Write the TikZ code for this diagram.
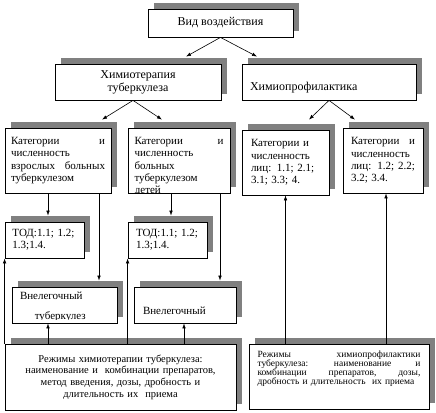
\documentclass[tikz,border=0pt]{standalone}
\usepackage{fontspec}
\setmainfont{Liberation Serif}
\usepackage{tikz}
\usetikzlibrary{arrows.meta,calc,shadows}
\setlength{\parindent}{0pt}
\definecolor{ink}{HTML}{000000}
\definecolor{shade}{HTML}{808080}
\newcommand{\tightfont}{\fontsize{9.5}{9}\selectfont\lineskiplimit=-10pt\relax}
\tikzset{
  box/.style={draw=ink,fill=white,line width=0.8pt,inner sep=2pt,align=left,
    font=\fontsize{11}{12.3}\selectfont,
    general shadow={fill=shade,shadow xshift=5.5pt,shadow yshift=6pt}},
  headbox/.style={box,font=\fontsize{12}{13}\selectfont},
  smallbox/.style={box,font=\tightfont},
  txt/.style={inner sep=0pt,font=\fontsize{11}{12.3}\selectfont},
  arr/.style={-{Latex[length=5pt,width=3.6pt]},draw=ink,line width=0.6pt},
}
\begin{document}
\begin{tikzpicture}[x=1pt,y=-1pt]
  \useasboundingbox (0,0) rectangle (436,412);
  \node[headbox,align=center,minimum width=145pt,minimum height=28pt] (vid) at (220.5,23) {Вид воздействия};
  \node[headbox,align=center,minimum width=166pt,minimum height=36pt] (himter) at (138,82) {Химиотерапия\\туберкулеза};
  \node[headbox,text width=158pt,text height=20pt,minimum width=174pt,minimum height=36pt] (himprof) at (329,82) {Химиопрофилактика};
  \node[box,text width=94pt,minimum width=106pt,minimum height=65pt] (kat1) at (58,160.5) {Категории \hfill и\\численность\\взрослых \hfill больных\\туберкулезом};
  \node[box,text width=89pt,minimum width=102pt,minimum height=65pt] (kat2) at (179,160.5) {Категории \hfill и\\численность\\больных\\туберкулезом};
  \node[box,text width=69pt,minimum width=87pt,minimum height=65pt] (kat3) at (285.5,162.5) {Категории и\\численность\\лиц: 1.1; 2.1;\\3.1; 3.3; 4.};
  \node[box,text width=64pt,minimum width=80pt,minimum height=65pt] (kat4) at (383,160.5) {Категории \hfill и\\численность\\лиц: \hfill 1.2; \hfill 2.2;\\3.2; 3.4.};
  \node[box,text width=64pt,minimum width=79pt,minimum height=36pt] (tod1) at (44.5,240) {ТОД:1.1; 1.2;\\1.3;1.4.};
  \node[box,text width=63pt,minimum width=79pt,minimum height=36pt] (tod2) at (167.5,240) {ТОД:1.1; 1.2;\\1.3;1.4.};
  \node[box,text width=89pt,text depth=18pt,minimum width=105pt,minimum height=36pt] (vnel1) at (64.5,305) {Внелегочный};
  \node[box,text width=84pt,text height=18.5pt,minimum width=102pt,minimum height=36pt] (vnel2) at (185,305) {Внелегочный};
  \node[box,align=center,text width=224pt,font=\fontsize{10.5}{11.7}\selectfont,minimum width=231pt,minimum height=66pt] (rezh1) at (120.5,377) {Режимы химиотерапии туберкулеза:\\наименование и\ \ комбинации препаратов,\\метод введения, дозы, дробность и\\длительность их\ \ приема};
  \node[smallbox,text width=163pt,text depth=44pt,minimum width=180pt,minimum height=65pt] (rezh2) at (339,376.5) {Режимы \hfill химиопрофилактики\\туберкулеза: \hfill наименование \hfill и\\комбинации \hfill препаратов, \hfill дозы,\\дробность и длительность\ \ их приема};
  \begin{scope}
    \clip (kat2.north west) rectangle (kat2.south east);
    \node[txt,anchor=base west] (kat2b) at ($(kat2.south west)+(7,0)$) {детей};
  \end{scope}
  \begin{scope}
    \clip (vnel1.north west) rectangle ($(vnel1.south east)+(0,-4)$);
    \node[txt,anchor=base west] (vnel1b) at ($(vnel1.south west)+(23,-4.3)$) {туберкулез};
  \end{scope}
  \draw[arr] (vid.south) -- ($(himter.north)+(48,-7)$);
  \draw[arr] (vid.south) -- ($(himprof.north)+(-72,-7)$);
  \draw[arr] ([xshift=-5pt]himter.south) -- ($(kat1.north)+(44,-8)$);
  \draw[arr] ([xshift=-5pt]himter.south) -- ($(kat2.north)+(-17,-8)$);
  \draw[arr] (himprof.south) -- ($(kat3.north)+(23.5,-10)$);
  \draw[arr] (himprof.south) -- ($(kat4.north)+(-28,-8)$);
  \draw[arr] ([xshift=3.5pt]tod1.north |- kat1.south) -- ([xshift=3.5pt,yshift=6pt]tod1.north);
  \draw[arr] ([xshift=34.5pt]vnel1.north |- kat1.south) -- ([xshift=34.5pt,yshift=6pt]vnel1.north);
  \draw[arr] ([xshift=3.5pt]tod2.north |- kat2.south) -- ([xshift=3.5pt,yshift=6pt]tod2.north);
  \draw[arr] ([xshift=35pt]vnel2.north |- kat2.south) -- ([xshift=35pt,yshift=6pt]vnel2.north);
  \draw[arr] (tod1.south west |- rezh1.north) -- (tod1.south west);
  \draw[arr] (tod2.south west |- rezh1.north) -- (tod2.south west);
  \draw[arr] ([xshift=-16.5pt]vnel1.south |- rezh1.north) -- ([xshift=-16.5pt]vnel1.south);
  \draw[arr] ([xshift=-1pt]vnel2.south |- rezh1.north) -- ([xshift=-1pt]vnel2.south);
  \draw[arr] (kat3.south |- rezh2.north) -- (kat3.south);
  \draw[arr] ([xshift=3pt]kat4.south |- rezh2.north) -- ([xshift=3pt]kat4.south);
\end{tikzpicture}
\end{document}
